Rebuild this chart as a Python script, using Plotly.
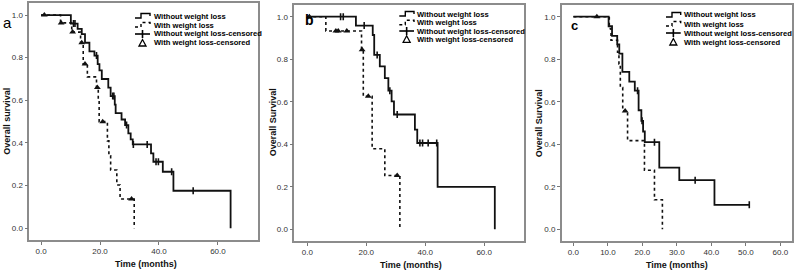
import numpy as np
import plotly.graph_objects as go

W, H = 797, 274

# ---------------- data ----------------
# Panel a
a_wo_t = [0, 10.1, 12.4, 13.8, 14.9, 16.4, 18.1, 19.2, 19.8, 20.6, 22.8, 23.6, 25.0, 25.3,
          27.3, 28.5, 29.6, 30.4, 31.1, 37.3, 38.1, 41.3, 44.9, 64.3]
a_wo_s = [1.0, 0.96, 0.935, 0.91, 0.87, 0.83, 0.81, 0.77, 0.74, 0.70, 0.66, 0.62, 0.58, 0.54,
          0.51, 0.484, 0.445, 0.417, 0.393, 0.351, 0.312, 0.265, 0.176, 0.0]
a_wo_cens = [11.0, 11.5, 18.8, 24.3, 24.7, 29.0, 31.3, 36.0, 39.0, 39.8, 44.3, 51.6]
a_w_t = [0, 6.6, 10.4, 13.4, 14.3, 15.7, 18.8, 19.4, 19.7, 22.5, 23.0, 23.6, 25.7, 26.8, 31.6]
a_w_s = [1.0, 0.963, 0.92, 0.87, 0.77, 0.71, 0.66, 0.60, 0.50, 0.41, 0.34, 0.273, 0.203, 0.137, 0.0]
a_w_cens = [1.1, 6.8, 10.7, 13.8, 14.9, 19.1, 20.9, 30.7]

# Panel b
b_wo_t = [0, 16.5, 22.2, 22.7, 24.6, 26.3, 27.5, 28.6, 29.4, 36.5, 37.3, 44.2, 63.6]
b_wo_s = [1.0, 0.958, 0.914, 0.82, 0.766, 0.711, 0.652, 0.602, 0.54, 0.469, 0.406, 0.20, 0.0]
b_wo_cens = [11.3, 12.2, 19.3, 23.7, 28.0, 30.5, 38.2, 39.1, 41.0, 43.9]
b_w_t = [0, 6.3, 18.4, 19.0, 22.0, 26.3, 31.4]
b_w_s = [1.0, 0.933, 0.844, 0.626, 0.379, 0.253, 0.0]
b_w_cens = [0.7, 9.7, 10.5, 13.4, 18.6, 20.7, 30.5]

# Panel c
c_wo_t = [0, 10.2, 11.2, 12.7, 13.3, 14.2, 16.2, 17.8, 18.9, 19.7, 20.2, 20.7, 24.9, 30.7, 40.9]
c_wo_s = [1.0, 0.955, 0.91, 0.87, 0.826, 0.74, 0.695, 0.652, 0.56, 0.51, 0.46, 0.41, 0.29, 0.231, 0.115]
c_wo_cens = [18.6, 19.9, 23.5, 35.3, 51.0]
c_w_t = [0, 10.4, 10.9, 12.8, 13.2, 13.6, 14.3, 15.7, 20.6, 23.5, 25.8]
c_w_s = [1.0, 0.944, 0.889, 0.833, 0.778, 0.667, 0.556, 0.417, 0.278, 0.139, 0.0]
c_w_cens = [6.8, 15.0]

x_ticks_ab = [0, 20, 40, 60]
x_ticks_c = [0, 10, 20, 30, 40, 50, 60]
y_ticks = [0, 0.2, 0.4, 0.6, 0.8, 1.0]

legend_names = ["Without weight loss", "With weight loss",
                "Without weight loss-censored", "With weight loss-censored"]

FONT = "Liberation Sans, Arial, sans-serif"
TICKFONT = "Liberation Sans Narrow, Liberation Sans, sans-serif"


def step_xy(t, s, cens):
    end = max(t[-1], max(cens) if cens else 0)
    return list(t) + [end], list(s) + [s[-1]]


def surv_at(t, s, c):
    t = np.asarray(t)
    idx = np.searchsorted(t, np.asarray(c), side="right") - 1
    return list(np.asarray(s)[idx])


panels = [
    dict(wo=(a_wo_t, a_wo_s, a_wo_cens), w=(a_w_t, a_w_s, a_w_cens),
         dom_px=(29.3, 258.3, 3.3, 240), xr=[-4.0, 73.7], xt=x_ticks_ab,
         ytitle="Overall survival", letter="a", letter_px=(7, 22, 15, False),
         ytitle_px=(6.7, 121), xtitle_px=(146, 264),
         leg=(135, 150, 151.5, [16, 25, 34, 43])),
    dict(wo=(b_wo_t, b_wo_s, b_wo_cens), w=(b_w_t, b_w_s, b_w_cens),
         dom_px=(294.3, 524.3, 5, 241), xr=[-4.4, 73.6], xt=x_ticks_ab,
         ytitle="Overall Survival", letter="b", letter_px=(309.5, 20, 14, True),
         ytitle_px=(273.3, 122), xtitle_px=(411, 265),
         leg=(399.3, 414, 415.3, [14, 22.7, 31, 39.3])),
    dict(wo=(c_wo_t, c_wo_s, c_wo_cens), w=(c_w_t, c_w_s, c_w_cens),
         dom_px=(561.7, 791.7, 5, 241), xr=[-3.4, 63.3], xt=x_ticks_c,
         ytitle="Overall Survival", letter="c", letter_px=(574.5, 25, 13, True),
         ytitle_px=(539.3, 123), xtitle_px=(677, 265),
         leg=(666, 680.7, 682, [15, 24, 33, 42])),
]

fig = go.Figure()
annotations = []
shapes = []


def px2p(x, y):
    return x / W, 1 - y / H


for i, p in enumerate(panels):
    sfx = "" if i == 0 else str(i + 1)
    xa, ya = "x" + sfx, "y" + sfx
    (t1, s1, c1), (t2, s2, c2) = p["wo"], p["w"]
    x1, y1 = step_xy(t1, s1, c1)
    x2, y2 = step_xy(t2, s2, c2)
    fig.add_trace(go.Scatter(x=x2, y=y2, mode="lines", line=dict(color="#111", width=1.6, dash="dot", shape="hv"),
                             xaxis=xa, yaxis=ya, name=legend_names[1], showlegend=False))
    fig.add_trace(go.Scatter(x=x1, y=y1, mode="lines", line=dict(color="#111", width=1.8, shape="hv"),
                             xaxis=xa, yaxis=ya, name=legend_names[0], showlegend=False))
    fig.add_trace(go.Scatter(x=c1, y=surv_at(t1, s1, c1), mode="markers",
                             marker=dict(symbol="line-ns", size=5, line=dict(color="#111", width=1.6)),
                             xaxis=xa, yaxis=ya, name=legend_names[2], showlegend=False))
    fig.add_trace(go.Scatter(x=c2, y=surv_at(t2, s2, c2), mode="markers",
                             marker=dict(symbol="triangle-up", size=6, color="#111"),
                             xaxis=xa, yaxis=ya, name=legend_names[3], showlegend=False))

    l, r, t, b = p["dom_px"]
    axis_common = dict(showline=True, mirror=True, linecolor="#8c8c8c", linewidth=1.5,
                       showgrid=False, zeroline=False, ticks="outside", ticklen=3,
                       tickcolor="#777", tickwidth=1,
                       tickfont=dict(family=TICKFONT, size=8, color="#333"))
    fig.update_layout(**{
        "xaxis" + sfx: dict(domain=[l / W, r / W], range=p["xr"], anchor=ya,
                            tickvals=p["xt"], ticktext=[f"{v:.1f}" for v in p["xt"]], **axis_common),
        "yaxis" + sfx: dict(domain=[1 - b / H, 1 - t / H], range=[-0.055, 1.055], anchor=xa,
                            tickvals=y_ticks, ticktext=[f"{v:.1f}" for v in y_ticks], **axis_common),
    })

    # panel letter
    lx, ly, lsize, lbold = p["letter_px"]
    xx, yy = px2p(lx, ly)
    annotations.append(dict(x=xx, y=yy, xref="paper", yref="paper", showarrow=False,
                            text=f"<b>{p['letter']}</b>" if lbold else p["letter"],
                            font=dict(family=FONT, size=lsize, color="#000"),
                            xanchor="center", yanchor="middle"))
    # axis titles
    xx, yy = px2p(*p["ytitle_px"])
    annotations.append(dict(x=xx, y=yy, xref="paper", yref="paper", showarrow=False, textangle=-90,
                            text=f"<b>{p['ytitle']}</b>", font=dict(family=FONT, size=9, color="#111"),
                            xanchor="center", yanchor="middle"))
    xx, yy = px2p(*p["xtitle_px"])
    annotations.append(dict(x=xx, y=yy, xref="paper", yref="paper", showarrow=False,
                            text="<b>Time (months)</b>", font=dict(family=FONT, size=9, color="#111"),
                            xanchor="center", yanchor="middle"))

    # legend (drawn compactly as in the original)
    sx0, sx1, tx, rows = p["leg"]
    mid = (sx0 + sx1) / 2
    for k, name in enumerate(legend_names):
        ry = rows[k]
        xx, yy = px2p(tx, ry)
        annotations.append(dict(x=xx, y=yy, xref="paper", yref="paper", showarrow=False,
                                text=f"<b>{name}</b>", font=dict(family=FONT, size=7.6, color="#000"),
                                xanchor="left", yanchor="middle"))

    def P(x, y):
        a, c = px2p(x, y)
        return f"{a:.5f},{c:.5f}"
    for k, dash in [(0, "solid"), (1, "dot")]:
        ry = rows[k]
        path = (f"M{P(sx0, ry + 2)} L{P(sx0 + 6, ry + 2)} L{P(sx0 + 6, ry - 2.5)} "
                f"L{P(sx1, ry - 2.5)} L{P(sx1, ry)}")
        shapes.append(dict(type="path", xref="paper", yref="paper", path=path,
                           line=dict(color="#000", width=1.4, dash=dash)))
    ry = rows[2]
    shapes.append(dict(type="path", xref="paper", yref="paper",
                       path=f"M{P(sx0, ry)} L{P(sx1, ry)}", line=dict(color="#000", width=1.6)))
    shapes.append(dict(type="path", xref="paper", yref="paper",
                       path=f"M{P(mid, ry - 4)} L{P(mid, ry + 4)}", line=dict(color="#000", width=1.6)))
    ry = rows[3]
    shapes.append(dict(type="path", xref="paper", yref="paper",
                       path=f"M{P(mid - 3.5, ry + 3)} L{P(mid + 3.5, ry + 3)} L{P(mid, ry - 3.5)} Z",
                       line=dict(color="#000", width=1.3), fillcolor="#fff"))

fig.update_layout(width=W, height=H, margin=dict(l=0, r=0, t=0, b=0),
                  paper_bgcolor="#fff", plot_bgcolor="#fff", showlegend=False,
                  annotations=annotations, shapes=shapes,
                  font=dict(family=FONT))
fig.write_html("out.html", config={"displayModeBar": False},
               post_script="document.body.style.margin='0';document.body.style.padding='0';"
                           "document.body.style.overflow='hidden';")
